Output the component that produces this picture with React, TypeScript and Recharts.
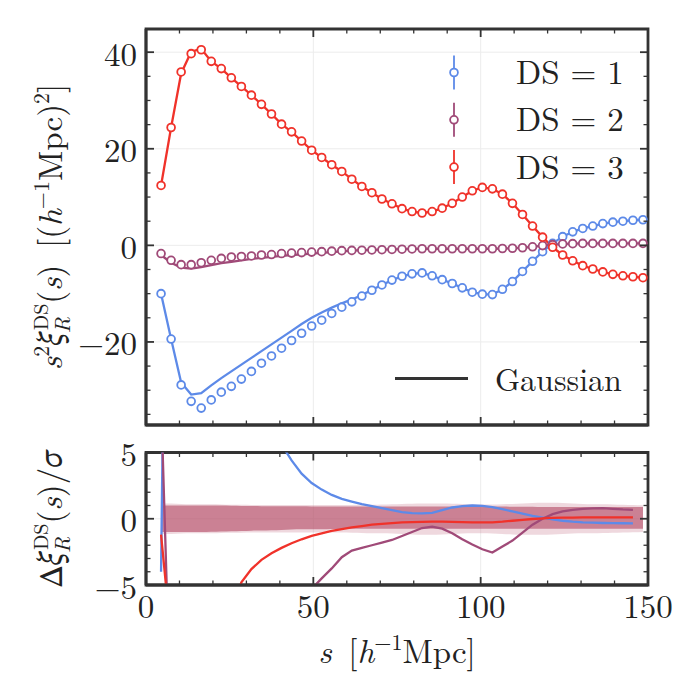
import React from 'react';
import { ComposedChart, Line, Area, XAxis, YAxis, CartesianGrid, ReferenceArea } from 'recharts';

// ---------- data ----------
const sValues = [
  4.5, 7.5, 10.5, 13.5, 16.5, 19.5, 22.5, 25.5, 28.5, 31.5, 34.5, 37.5, 40.5, 43.5, 46.5, 49.5,
  52.5, 55.5, 58.5, 61.5, 64.5, 67.5, 70.5, 73.5, 76.5, 79.5, 82.5, 85.5, 88.5, 91.5, 94.5, 97.5,
  100.5, 103.5, 106.5, 109.5, 112.5, 115.5, 118.5, 121.5, 124.5, 127.5, 130.5, 133.5, 136.5, 139.5,
  142.5, 145.5, 148.5,
];

// measured points (DS = 1, 2, 3)
const ds1Points = [
  -10.0, -19.4, -28.9, -32.3, -33.7, -32.0, -30.4, -29.2, -27.7, -26.1, -24.4, -22.9, -21.3, -19.7,
  -18.2, -16.7, -15.5, -14.1, -12.8, -11.7, -10.5, -9.3, -8.2, -7.2, -6.4, -5.9, -5.7, -6.3, -7.1,
  -7.9, -8.8, -9.7, -10.1, -10.2, -9.1, -7.5, -5.4, -3.3, -1.3, 0.4, 1.8, 2.8, 3.5, 4.0, 4.5, 4.8,
  5.0, 5.2, 5.3,
];
const ds2Points = [
  -1.7, -3.1, -4.0, -4.0, -3.6, -3.1, -2.7, -2.4, -2.3, -2.2, -2.0, -1.9, -1.7, -1.6, -1.5, -1.4,
  -1.3, -1.2, -1.1, -1.05, -1.0, -0.95, -0.9, -0.85, -0.8, -0.75, -0.7, -0.7, -0.7, -0.7, -0.7,
  -0.7, -0.7, -0.7, -0.65, -0.6, -0.5, -0.3, -0.05, 0.15, 0.3, 0.35, 0.4, 0.4, 0.4, 0.4, 0.4, 0.4,
  0.4,
];
const ds3Points = [
  12.4, 24.4, 35.9, 39.7, 40.5, 38.1, 36.6, 34.7, 32.9, 31.1, 29.2, 27.2, 25.1, 23.5, 21.6, 19.7,
  18.2, 16.7, 15.3, 13.7, 12.2, 10.9, 9.6, 8.6, 7.6, 7.0, 6.7, 7.0, 7.7, 8.7, 10.0, 11.3, 12.0,
  11.7, 10.6, 8.7, 6.4, 4.0, 1.7, -0.4, -2.0, -3.2, -4.2, -4.9, -5.5, -6.0, -6.3, -6.5, -6.7,
];

// Gaussian predictions
const ds1Gauss = [
  -10.0, -19.4, -28.4, -30.9, -30.6, -29.0, -27.5, -26.1, -24.7, -23.3, -21.9, -20.5, -19.1, -17.7,
  -16.3, -15.0, -13.9, -12.9, -12.0, -11.2, -10.3, -9.2, -8.2, -7.2, -6.4, -5.9, -5.7, -6.3, -7.1,
  -7.9, -8.8, -9.7, -10.1, -10.2, -9.1, -7.5, -5.4, -3.3, -1.3, 0.4, 1.8, 2.8, 3.5, 4.0, 4.5, 4.8,
  5.0, 5.2, 5.3,
];
const ds2Gauss = [
  -2.0, -3.6, -4.6, -4.8, -4.5, -4.1, -3.7, -3.4, -3.1, -2.8, -2.6, -2.4, -2.2, -2.0, -1.85, -1.7,
  -1.55, -1.4, -1.25, -1.1, -1.0, -0.95, -0.9, -0.85, -0.8, -0.75, -0.7, -0.7, -0.7, -0.7, -0.7,
  -0.7, -0.7, -0.7, -0.65, -0.6, -0.5, -0.3, -0.05, 0.15, 0.3, 0.35, 0.4, 0.4, 0.4, 0.4, 0.4, 0.4,
  0.4,
];
const ds3Gauss = [
  12.4, 24.4, 35.6, 40.1, 40.7, 38.1, 36.6, 34.7, 32.9, 31.1, 29.2, 27.2, 25.1, 23.5, 21.6, 19.7,
  18.2, 16.7, 15.3, 13.7, 12.2, 10.9, 9.6, 8.6, 7.6, 7.0, 6.7, 7.0, 7.7, 8.7, 10.0, 11.3, 12.0,
  11.7, 10.6, 8.7, 6.4, 4.0, 1.7, -0.4, -2.0, -3.2, -4.2, -4.9, -5.5, -6.0, -6.3, -6.5, -6.7,
];

// residuals (bottom panel)
const diff1 = [
  -4.0, 60, 45, 35, 27, 21, 16, 13, 10.5, 8.8, 7.4, 7.0, 5.6, 4.4, 3.4, 2.7, 2.2, 1.8, 1.5, 1.3,
  1.1, 0.95, 0.8, 0.65, 0.5, 0.42, 0.4, 0.45, 0.65, 0.85, 0.95, 1.0, 0.97, 0.88, 0.72, 0.55, 0.38,
  0.22, 0.08, -0.05, -0.15, -0.22, -0.27, -0.3, -0.32, -0.33, -0.34, -0.35, null,
];
const diff2 = [
  9, -16, -25, -28, -27, -24, -21, -18, -15.5, -13.5, -11.5, -10, -8.7, -7.5, -6.4, -5.3, -4.5,
  -3.75, -2.9, -2.4, -2.2, -2.0, -1.8, -1.6, -1.3, -1.0, -0.7, -0.6, -0.75, -1.1, -1.55, -1.95,
  -2.3, -2.55, -2.1, -1.65, -1.05, -0.45, 0.0, 0.35, 0.55, 0.67, 0.74, 0.78, 0.8, 0.75, 0.7, 0.67,
  null,
];
const diff3 = [
  -1.2, -9, -16, -18, -16, -12.5, -9.5, -6.8, -4.8, -3.8, -3.1, -2.6, -2.2, -1.85, -1.55, -1.3,
  -1.1, -0.92, -0.78, -0.65, -0.55, -0.45, -0.38, -0.33, -0.28, -0.25, -0.23, -0.22, -0.22, -0.23,
  -0.25, -0.27, -0.28, -0.27, -0.22, -0.15, -0.08, -0.02, 0.03, 0.06, 0.08, 0.09, 0.1, 0.1, 0.1,
  0.1, 0.1, 0.1, null,
];
const bandHigh = [
  1.0, 1.0, 1.0, 1.0, 1.0, 1.0, 1.0, 0.98, 0.97, 0.96, 0.95, 0.95, 0.95, 0.94, 0.94, 0.93, 0.93,
  0.93, 0.92, 0.92, 0.92, 0.92, 0.92, 0.92, 0.92, 0.92, 0.92, 0.92, 0.92, 0.92, 0.92, 0.92, 0.92,
  0.92, 0.92, 0.9, 0.9, 0.9, 0.88, 0.88, 0.88, 0.88, 0.88, 0.88, 0.88, 0.88, 0.88, 0.88, 0.88,
];
const bandLow = [
  -1.0, -1.0, -1.0, -1.0, -1.0, -0.98, -0.96, -0.94, -0.92, -0.9, -0.88, -0.86, -0.84, -0.82, -0.8,
  -0.8, -0.8, -0.78, -0.78, -0.76, -0.76, -0.75, -0.75, -0.75, -0.75, -0.75, -0.75, -0.75, -0.75,
  -0.75, -0.75, -0.75, -0.75, -0.75, -0.75, -0.75, -0.75, -0.75, -0.75, -0.75, -0.75, -0.75,
  -0.75, -0.75, -0.75, -0.75, -0.75, -0.75, -0.75,
];
const haloHigh = [
  1.15, 1.15, 1.12, 1.1, 1.1, 1.1, 1.08, 1.06, 1.05, 1.04, 1.03, 1.03, 1.03, 1.03, 1.03, 1.03, 1.03,
  1.03, 1.03, 1.04, 1.05, 1.06, 1.08, 1.1, 1.12, 1.14, 1.15, 1.15, 1.15, 1.14, 1.12, 1.1, 1.08,
  1.08, 1.1, 1.12, 1.15, 1.18, 1.2, 1.2, 1.18, 1.15, 1.12, 1.1, 1.1, 1.08, 1.06, 1.04, 1.02,
];
const haloLow = [
  -1.15, -1.15, -1.12, -1.1, -1.1, -1.1, -1.08, -1.06, -1.05, -1.04, -1.03, -1.03, -1.03, -1.03,
  -1.03, -1.03, -1.03, -1.03, -1.04, -1.05, -1.07, -1.09, -1.1, -1.12, -1.15, -1.18, -1.2, -1.2,
  -1.18, -1.15, -1.12, -1.1, -1.1, -1.12, -1.15, -1.18, -1.2, -1.2, -1.2, -1.18, -1.15, -1.12,
  -1.1, -1.1, -1.08, -1.06, -1.04, -1.02, -1.0,
];

// ticks
const xTicks = [0, 10, 20, 30, 40, 50, 60, 70, 80, 90, 100, 110, 120, 130, 140, 150];
const xMajor = [0, 50, 100, 150];
const yTopDomain: [number, number] = [-37.2, 44.8];
const yTopTicks = [-35, -30, -25, -20, -15, -10, -5, 0, 5, 10, 15, 20, 25, 30, 35, 40];
const yTopMajor = [-20, 0, 20, 40];
const yBotDomain: [number, number] = [-5, 5];
const yBotTicks = [-5, -4, -3, -2, -1, 0, 1, 2, 3, 4, 5];
const yBotMajor = [-5, 0, 5];
const legendLabels = ['DS = 1', 'DS = 2', 'DS = 3'];

// ---------- style / layout ----------
const FONT = "'Latin Modern Roman', 'Liberation Serif', serif";
const GREEK = "'STIX Two Text', 'Tinos', 'Noto Serif CJK SC', serif";
const FRAME = '#333333';
const TEXT = '#222222';
const GRID = '#ececec';
const BLUE = '#5d8ae8';
const PURPLE = '#a04a78';
const RED = '#f0322a';
const COLORS = [BLUE, PURPLE, RED];
const FS = 33;
const textStyle = { fontFamily: FONT };
const greekStyle = { fontFamily: GREEK, fontStyle: 'italic' as const };

const PLOT_W = 502; // 146 .. 648
const TOP_H = 396; // 29 .. 425
const BOT_H = 132.5; // 452.5 .. 585

const topData = sValues.map((s, i) => ({
  s,
  ds1: ds1Points[i],
  ds2: ds2Points[i],
  ds3: ds3Points[i],
  g1: ds1Gauss[i],
  g2: ds2Gauss[i],
  g3: ds3Gauss[i],
}));
const botData = sValues.map((s, i) => ({
  s,
  d1: diff1[i],
  d2: diff2[i],
  d3: diff3[i],
  band: [bandLow[i], bandHigh[i]],
  halo: [haloLow[i], haloHigh[i]],
}));

const fmt = (v: number) => (v < 0 ? `\u2212${Math.abs(v)}` : `${v}`);

// left y-axis ticks (also mirrored on the right frame edge), inward like matplotlib
const makeYTick = (majors: number[], withLabel: boolean) => (props: any) => {
  const { x, y, payload } = props;
  const v = payload?.value;
  const major = majors.indexOf(v) >= 0;
  const len = major ? 8 : 4.5;
  const sw = major ? 1.8 : 1.3;
  return (
    <g>
      <line x1={x} y1={y} x2={x + len} y2={y} stroke={FRAME} strokeWidth={sw} />
      <line x1={x + PLOT_W} y1={y} x2={x + PLOT_W - len} y2={y} stroke={FRAME} strokeWidth={sw} />
      {withLabel && major && (
        <text
          x={x - 9}
          y={y}
          textAnchor="end"
          dominantBaseline="central"
          style={textStyle}
          fontFamily={FONT}
          fontSize={FS}
          fill={TEXT}
        >
          {fmt(v)}
        </text>
      )}
    </g>
  );
};

// bottom x-axis ticks (also mirrored on the top frame edge)
const makeXTick = (majors: number[], withLabel: boolean, plotH: number) => (props: any) => {
  const { x, y, payload } = props;
  const v = payload?.value;
  const major = majors.indexOf(v) >= 0;
  const len = major ? 8 : 4.5;
  const sw = major ? 1.8 : 1.3;
  return (
    <g>
      <line x1={x} y1={y} x2={x} y2={y - len} stroke={FRAME} strokeWidth={sw} />
      <line x1={x} y1={y - plotH} x2={x} y2={y - plotH + len} stroke={FRAME} strokeWidth={sw} />
      {withLabel && major && (
        <text
          x={x}
          y={y + 33}
          textAnchor="middle"
          style={textStyle}
          fontFamily={FONT}
          fontSize={FS}
          fill={TEXT}
        >
          {fmt(v)}
        </text>
      )}
    </g>
  );
};

const axisLine = { stroke: FRAME, strokeWidth: 2.8 };
const markerDot = (c: string) => ({ r: 3.9, stroke: c, strokeWidth: 1.8, fill: '#ffffff' });

export default function App() {
  return (
    <div
      style={{
        position: 'absolute',
        left: 0,
        top: 0,
        width: 700,
        height: 700,
        background: '#ffffff',
        fontFamily: FONT,
        overflow: 'hidden',
      }}
    >
      {/* top panel */}
      <div style={{ position: 'absolute', left: 0, top: 0 }}>
        <ComposedChart
          width={700}
          height={440}
          data={topData}
          margin={{ top: 29, right: 52, bottom: 14, left: 145 }}
        >
          <CartesianGrid
            stroke={GRID}
            strokeWidth={1}
            horizontalValues={yTopMajor}
            verticalValues={xMajor}
          />
          <XAxis
            dataKey="s"
            type="number"
            domain={[0, 150]}
            ticks={xTicks}
            interval={0}
            height={1}
            tickSize={0}
            tickMargin={0}
            axisLine={axisLine}
            tickLine={false}
            tick={makeXTick(xMajor, false, TOP_H)}
            allowDataOverflow
          />
          <YAxis
            type="number"
            domain={yTopDomain}
            ticks={yTopTicks}
            interval={0}
            width={1}
            tickSize={0}
            tickMargin={0}
            axisLine={axisLine}
            tickLine={false}
            tick={makeYTick(yTopMajor, true)}
            allowDataOverflow
          />
          <ReferenceArea
            x1={0}
            x2={150}
            y1={yTopDomain[0]}
            y2={yTopDomain[1]}
            stroke={FRAME}
            strokeWidth={2.8}
            fill="none"
            fillOpacity={0}
          />
          <Line dataKey="g1" stroke={BLUE} strokeWidth={2.3} dot={false} activeDot={false} isAnimationActive={false} />
          <Line dataKey="g2" stroke={PURPLE} strokeWidth={2.3} dot={false} activeDot={false} isAnimationActive={false} />
          <Line dataKey="g3" stroke={RED} strokeWidth={2.3} dot={false} activeDot={false} isAnimationActive={false} />
          <Line dataKey="ds1" stroke="none" dot={markerDot(BLUE)} activeDot={false} isAnimationActive={false} />
          <Line dataKey="ds2" stroke="none" dot={markerDot(PURPLE)} activeDot={false} isAnimationActive={false} />
          <Line dataKey="ds3" stroke="none" dot={markerDot(RED)} activeDot={false} isAnimationActive={false} />
        </ComposedChart>
      </div>

      {/* bottom panel */}
      <div style={{ position: 'absolute', left: 0, top: 420 }}>
        <ComposedChart
          width={700}
          height={280}
          data={botData}
          margin={{ top: 32.5, right: 52, bottom: 114, left: 145 }}
        >
          <CartesianGrid stroke={GRID} strokeWidth={1} horizontalValues={[0]} verticalValues={xMajor} />
          <XAxis
            dataKey="s"
            type="number"
            domain={[0, 150]}
            ticks={xTicks}
            interval={0}
            height={1}
            tickSize={0}
            tickMargin={0}
            axisLine={axisLine}
            tickLine={false}
            tick={makeXTick(xMajor, true, BOT_H)}
            allowDataOverflow
          />
          <YAxis
            type="number"
            domain={yBotDomain}
            ticks={yBotTicks}
            interval={0}
            width={1}
            tickSize={0}
            tickMargin={0}
            axisLine={axisLine}
            tickLine={false}
            tick={makeYTick(yBotMajor, true)}
            allowDataOverflow
          />
          <Line dataKey="d1" stroke={BLUE} strokeWidth={2.3} dot={false} activeDot={false} isAnimationActive={false} />
          <Line dataKey="d2" stroke={PURPLE} strokeWidth={2.3} dot={false} activeDot={false} isAnimationActive={false} />
          <Line dataKey="d3" stroke={RED} strokeWidth={2.3} dot={false} activeDot={false} isAnimationActive={false} />
          <Area
            dataKey="halo"
            type="monotone"
            stroke="none"
            fill="#c97f92"
            fillOpacity={0.3}
            activeDot={false}
            isAnimationActive={false}
          />
          <Area
            dataKey="band"
            type="monotone"
            stroke="none"
            fill="#b24863"
            fillOpacity={0.6}
            activeDot={false}
            isAnimationActive={false}
          />
          <ReferenceArea
            x1={0}
            x2={150}
            y1={yBotDomain[0]}
            y2={yBotDomain[1]}
            stroke={FRAME}
            strokeWidth={2.8}
            fill="none"
            fillOpacity={0}
          />
        </ComposedChart>
      </div>

      {/* labels and legends */}
      <svg
        width={700}
        height={700}
        style={{ position: 'absolute', left: 0, top: 0, pointerEvents: 'none', fontFamily: FONT }}
        fontFamily={FONT}
        fill={TEXT}
      >
        {/* x label */}
        <text x={397} y={663} textAnchor="middle" fontSize={FS} style={textStyle}>
          <tspan fontStyle="italic">s</tspan>
          <tspan>{'\u2002['}</tspan>
          <tspan fontStyle="italic">h</tspan>
          <tspan fontSize={22} dy={-13}>{'\u22121'}</tspan>
          <tspan dy={13}>Mpc]</tspan>
        </text>

        {/* top y label */}
        <text transform="translate(62,227) rotate(-90)" textAnchor="middle" fontSize={FS} style={textStyle}>
          <tspan fontStyle="italic">s</tspan>
          <tspan fontSize={22} dy={-13}>2</tspan>
          <tspan style={greekStyle} fontFamily={GREEK} fontStyle="italic" dy={13}>ξ</tspan>
          <tspan fontStyle="italic" fontSize={22} dy={8}>R</tspan>
          <tspan fontSize={20} dx={-13} dy={-22}>DS</tspan>
          <tspan dy={14}>(</tspan>
          <tspan fontStyle="italic">s</tspan>
          <tspan>{')\u2002[('}</tspan>
          <tspan fontStyle="italic">h</tspan>
          <tspan fontSize={22} dy={-13}>{'\u22121'}</tspan>
          <tspan dy={13}>Mpc)</tspan>
          <tspan fontSize={22} dy={-13}>2</tspan>
          <tspan dy={13}>]</tspan>
        </text>

        {/* bottom y label */}
        <text transform="translate(62,519) rotate(-90)" textAnchor="middle" fontSize={FS} style={textStyle}>
          <tspan style={{ fontFamily: GREEK }} fontFamily={GREEK}>Δ</tspan>
          <tspan style={greekStyle} fontFamily={GREEK} fontStyle="italic">ξ</tspan>
          <tspan fontStyle="italic" fontSize={22} dy={8}>R</tspan>
          <tspan fontSize={20} dx={-13} dy={-22}>DS</tspan>
          <tspan dy={14}>(</tspan>
          <tspan fontStyle="italic">s</tspan>
          <tspan>)/</tspan>
          <tspan style={greekStyle} fontFamily={GREEK} fontStyle="italic">σ</tspan>
        </text>

        {/* DS legend */}
        {legendLabels.map((lab, i) => {
          const cy = 72.5 + i * 47.3;
          return (
            <g key={lab}>
              <line x1={454} y1={cy - 17} x2={454} y2={cy + 17} stroke={COLORS[i]} strokeWidth={1.8} />
              <circle cx={454} cy={cy} r={3.9} stroke={COLORS[i]} strokeWidth={1.8} fill="#ffffff" />
              <text x={516} y={cy + 11.5} fontSize={FS} style={textStyle}>
                {lab}
              </text>
            </g>
          );
        })}

        {/* Gaussian legend */}
        <line x1={395} y1={378.5} x2={468} y2={378.5} stroke={FRAME} strokeWidth={3} />
        <text x={495} y={391} fontSize={32} style={textStyle}>
          Gaussian
        </text>
      </svg>
    </div>
  );
}
